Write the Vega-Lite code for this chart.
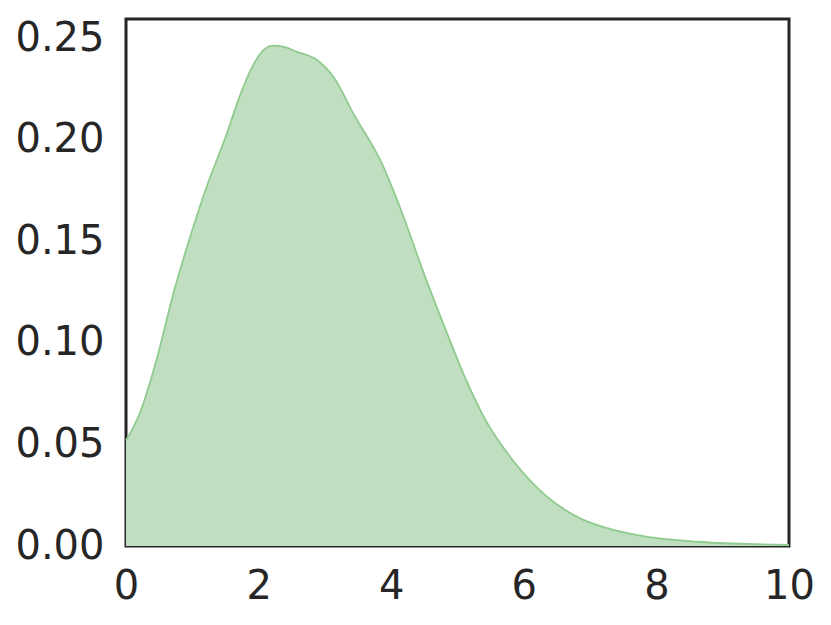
{
  "$schema": "https://vega.github.io/schema/vega-lite/v6.json",
  "width": 663,
  "height": 527,
  "autosize": {"type": "none"},
  "padding": {"left": 126, "top": 19, "right": 42, "bottom": 79},
  "background": "white",
  "config": {
    "view": {"stroke": "#262626", "strokeWidth": 3},
    "axis": {
      "labelFont": "DejaVu Sans",
      "labelFontSize": 40,
      "labelColor": "#262626",
      "ticks": false,
      "grid": false,
      "domain": false,
      "title": null
    }
  },
  "data": {
    "values": [
      {"x": 0.0, "y": 0.052},
      {"x": 0.21, "y": 0.0655},
      {"x": 0.46, "y": 0.0916},
      {"x": 0.72, "y": 0.125},
      {"x": 0.965, "y": 0.152},
      {"x": 1.217, "y": 0.177},
      {"x": 1.52, "y": 0.203},
      {"x": 1.72, "y": 0.222},
      {"x": 1.92, "y": 0.237},
      {"x": 2.08, "y": 0.2445},
      {"x": 2.22, "y": 0.2465},
      {"x": 2.4, "y": 0.2458},
      {"x": 2.57, "y": 0.2435},
      {"x": 2.88, "y": 0.2394},
      {"x": 3.13, "y": 0.231},
      {"x": 3.43, "y": 0.213},
      {"x": 3.88, "y": 0.187},
      {"x": 4.13, "y": 0.167},
      {"x": 4.53, "y": 0.131},
      {"x": 4.84, "y": 0.105},
      {"x": 5.1, "y": 0.084},
      {"x": 5.39, "y": 0.064},
      {"x": 5.84, "y": 0.042},
      {"x": 6.35, "y": 0.0243},
      {"x": 6.85, "y": 0.0136},
      {"x": 7.35, "y": 0.0079},
      {"x": 7.85, "y": 0.0046},
      {"x": 8.61, "y": 0.0021},
      {"x": 9.36, "y": 0.001},
      {"x": 10.0, "y": 0.0006}
    ]
  },
  "encoding": {
    "x": {
      "field": "x", "type": "quantitative",
      "scale": {"domain": [0, 10], "nice": false, "zero": false},
      "axis": {"values": [0, 2, 4, 6, 8, 10], "labelPadding": 20, "labelFlush": false}
    },
    "y": {
      "field": "y", "type": "quantitative",
      "scale": {"domain": [0, 0.2596], "nice": false},
      "axis": {"values": [0, 0.05, 0.1, 0.15, 0.2, 0.25], "format": ".2f", "labelPadding": 22, "labelFlush": false}
    }
  },
  "layer": [
    {"mark": {"type": "area", "interpolate": "monotone", "color": "#c0dfc0", "opacity": 1}},
    {"mark": {"type": "line", "interpolate": "monotone", "color": "#8fcb8f", "strokeWidth": 1.8}}
  ]
}
